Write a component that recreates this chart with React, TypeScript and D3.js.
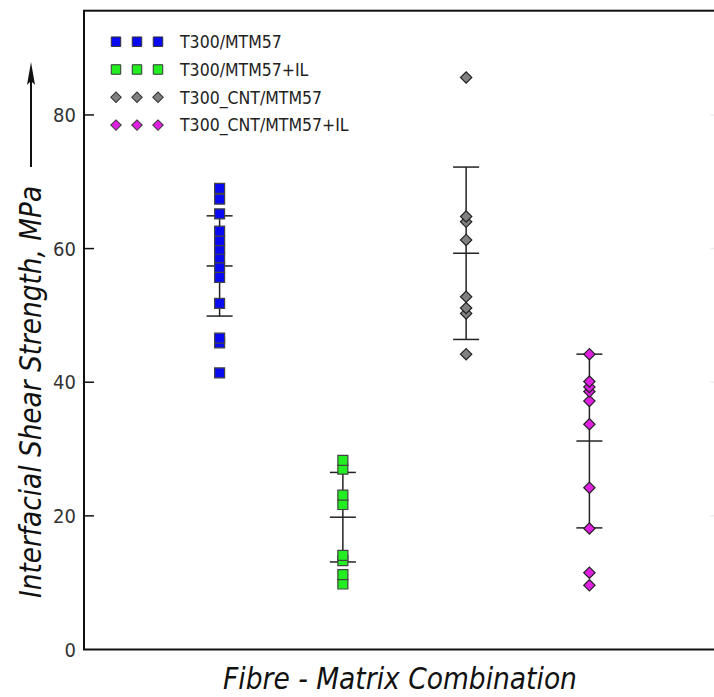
import React, { useEffect, useRef } from "react";
import * as d3 from "d3";

const W = 714;
const H = 697;

// groups, in left-to-right order
const groups = ["T300/MTM57", "T300/MTM57+IL", "T300_CNT/MTM57", "T300_CNT/MTM57+IL"];
const fills = ["#0a0af0", "#22ee22", "#808080", "#e020e0"];
const shapes = ["square", "square", "diamond", "diamond"];

// individual measurements (MPa)
const blueVals = [69.0, 67.4, 65.2, 62.6, 61.2, 59.9, 58.6, 57.2, 55.7, 51.8, 46.6, 45.9, 41.4];
const greenVals = [28.3, 27.0, 23.1, 21.7, 14.1, 13.3, 11.2, 9.8];
const grayVals = [85.6, 64.8, 64.0, 61.3, 52.8, 51.1, 50.3, 44.2];
const magentaVals = [44.2, 40.1, 39.3, 38.6, 37.2, 33.7, 24.2, 18.1, 11.5, 9.6];

// mean and standard deviation per group
const means = [57.4, 19.8, 59.3, 31.2];
const sds = [7.5, 6.7, 12.9, 13.0];

const yTicks = [0, 20, 40, 60, 80];

const font = "'DejaVu Sans Condensed', 'DejaVu Sans', sans-serif";

export default function App() {
  const ref = useRef<SVGSVGElement>(null);

  useEffect(() => {
    const svg = d3.select(ref.current);
    svg.selectAll("*").remove();

    const left = 84, top = 10.7, bottom = 649.5, right = 725;
    const x = d3.scaleLinear().domain([-0.1, 5.1]).range([left, right]);
    const y = d3.scaleLinear().domain([0, 95.6]).range([bottom, top]);

    const allVals = [blueVals, greenVals, grayVals, magentaVals];

    // frame
    svg.append("rect")
      .attr("x", left).attr("y", top)
      .attr("width", right - left).attr("height", bottom - top)
      .attr("fill", "none").attr("stroke", "#111").attr("stroke-width", 2);

    // y ticks (inward) + labels
    const tk = svg.append("g");
    yTicks.forEach(t => {
      if (t > 0) {
        tk.append("line")
          .attr("x1", left).attr("x2", left + 10)
          .attr("y1", y(t)).attr("y2", y(t))
          .attr("stroke", "#111").attr("stroke-width", 1.5);
        tk.append("line")
          .attr("x1", 710).attr("x2", 714)
          .attr("y1", y(t)).attr("y2", y(t))
          .attr("stroke", "#eee").attr("stroke-width", 1.5);
      }
      tk.append("text")
        .attr("x", left - 8).attr("y", y(t))
        .attr("dy", "0.35em")
        .attr("text-anchor", "end")
        .attr("font-family", font).attr("font-size", 20)
        .attr("fill", "#333")
        .text(t);
    });

    // error bars (drawn under the points)
    const eb = svg.append("g").attr("stroke", "#222").attr("stroke-width", 1.5);
    means.forEach((m, i) => {
      const cx = x(i + 1);
      eb.append("line").attr("x1", cx).attr("x2", cx)
        .attr("y1", y(m + sds[i])).attr("y2", y(m - sds[i]));
      [m + sds[i], m, m - sds[i]].forEach(v => {
        eb.append("line").attr("x1", cx - 13).attr("x2", cx + 13)
          .attr("y1", y(v)).attr("y2", y(v));
      });
    });

    const sq = d3.symbol().type(d3.symbolSquare).size(100);
    const dm = d3.symbol().type(d3.symbolSquare).size(64);

    // points
    allVals.forEach((vals, i) => {
      const g = svg.append("g");
      g.selectAll("path")
        .data(vals.slice().reverse())
        .enter().append("path")
        .attr("d", shapes[i] === "square" ? sq() : dm())
        .attr("transform", d => `translate(${x(i + 1)},${y(d)})` + (shapes[i] === "diamond" ? " rotate(45)" : ""))
        .attr("fill", fills[i])
        .attr("stroke", shapes[i] === "square" ? "#444" : "#222")
        .attr("stroke-width", 1.2);
    });

    // legend
    const lg = svg.append("g");
    const lsq = d3.symbol().type(d3.symbolSquare).size(90);
    const ldm = d3.symbol().type(d3.symbolSquare).size(55);
    groups.forEach((name, i) => {
      const ly = 41.7 + i * 27.8;
      [116, 137, 158].forEach(lx => {
        lg.append("path")
          .attr("d", shapes[i] === "square" ? lsq() : ldm())
          .attr("transform", `translate(${lx},${ly})` + (shapes[i] === "diamond" ? " rotate(45)" : ""))
          .attr("fill", fills[i])
          .attr("stroke", "#333").attr("stroke-width", 1);
      });
      lg.append("text")
        .attr("x", 180).attr("y", ly).attr("dy", "0.36em")
        .attr("font-family", font).attr("font-size", 17.5)
        .attr("fill", "#222")
        .text(name);
    });

    // y axis title + arrow
    svg.append("text")
      .attr("transform", `translate(41,${392}) rotate(-90)`)
      .attr("text-anchor", "middle")
      .attr("font-family", font).attr("font-size", 29.3)
      .attr("font-style", "italic")
      .attr("fill", "#111")
      .text("Interfacial Shear Strength, MPa");
    svg.append("line")
      .attr("x1", 31).attr("x2", 31).attr("y1", 167).attr("y2", 75)
      .attr("stroke", "#111").attr("stroke-width", 2);
    svg.append("path")
      .attr("d", "M31,62 L35,85 L31,81 L27,85 Z")
      .attr("fill", "#111");

    // x axis title
    svg.append("text")
      .attr("x", 400).attr("y", 689)
      .attr("text-anchor", "middle")
      .attr("font-family", font).attr("font-size", 29.5)
      .attr("font-style", "italic")
      .attr("fill", "#111")
      .text("Fibre - Matrix Combination");
  }, []);

  return (
    <svg
      ref={ref}
      width={W}
      height={H}
      style={{ position: "absolute", left: 0, top: 0, background: "#fff" }}
    />
  );
}
